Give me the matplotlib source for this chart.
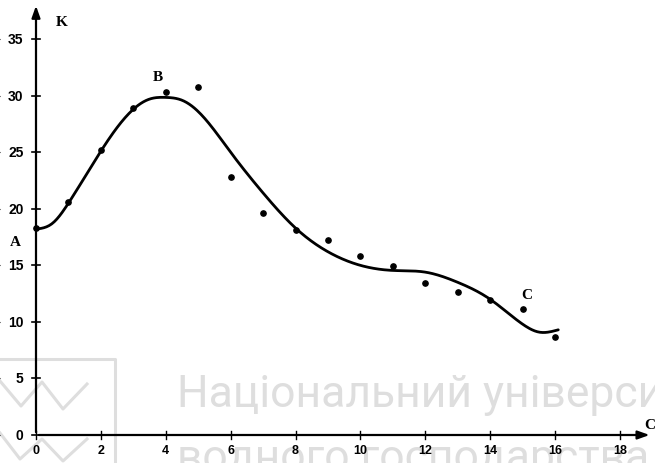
import numpy as np
import matplotlib
matplotlib.use('Agg')
import matplotlib.pyplot as plt
from matplotlib.lines import Line2D

# measured points (C, K)
pts_x = [0, 1, 2, 3, 4, 5, 6, 7, 8, 9, 10, 11, 12, 13, 14, 15, 16]
pts_y = [18.3, 20.6, 25.2, 28.9, 30.3, 30.8, 22.8, 19.6, 18.1, 17.2,
         15.8, 14.9, 13.4, 12.6, 11.9, 11.1, 8.7]

# fitted curve
curve_x = [0, 0.5, 1, 2, 3, 3.5, 4, 4.5, 5, 6, 7, 8, 9,
           10, 11, 12, 13, 14, 15, 15.5, 16.1]
curve_y = [18.2, 18.7, 20.5, 25.1, 28.8, 29.7, 29.85, 29.6, 28.6, 25.0,
           21.4, 18.3, 16.2, 15.0, 14.55, 14.4, 13.5, 12.0, 9.8, 9.1, 9.3]

xticks = [0, 2, 4, 6, 8, 10, 12, 14, 16, 18]
yticks = [0, 5, 10, 15, 20, 25, 30, 35]


def spline(xs, ys, n=400):
    # natural cubic spline y(x)
    x = np.asarray(xs, float)
    y = np.asarray(ys, float)
    m = len(x)
    h = np.diff(x)
    A = np.zeros((m, m))
    r = np.zeros(m)
    A[0, 0] = A[-1, -1] = 1
    for i in range(1, m - 1):
        A[i, i - 1] = h[i - 1]
        A[i, i] = 2 * (h[i - 1] + h[i])
        A[i, i + 1] = h[i]
        r[i] = 6 * ((y[i + 1] - y[i]) / h[i] - (y[i] - y[i - 1]) / h[i - 1])
    M = np.linalg.solve(A, r)
    xx = np.linspace(x[0], x[-1], n)
    k = np.clip(np.searchsorted(x, xx) - 1, 0, m - 2)
    a = x[k + 1] - xx
    b = xx - x[k]
    hk = h[k]
    yy = (M[k] * a ** 3 + M[k + 1] * b ** 3) / (6 * hk) \
        + (y[k] / hk - M[k] * hk / 6) * a + (y[k + 1] / hk - M[k + 1] * hk / 6) * b
    return xx, yy


fig = plt.figure(figsize=(6.55, 4.64), dpi=100)
ax = fig.add_axes([0, 0, 1, 1])
ax.patch.set_alpha(0)

# pixel mapping: x0 at 36px, 32.44 px/unit; y0 at 436px, 11.31 px/unit
ax.set_xlim(-36 / 32.44, (655 - 36) / 32.44)
ax.set_ylim(-(464 - 436) / 11.31, 436 / 11.31)

for s in ax.spines.values():
    s.set_visible(False)

# axes with arrows
ax.annotate('', xy=(0, 38.2), xytext=(0, 0),
            arrowprops=dict(arrowstyle='-|>,head_length=0.7,head_width=0.25', lw=1.6, color='black'))
ax.annotate('', xy=(19.0, 0), xytext=(0, 0),
            arrowprops=dict(arrowstyle='-|>,head_length=0.7,head_width=0.25', lw=1.6, color='black'))

# ticks crossing the axes
for t in yticks:
    ax.plot([-0.12, 0.12], [t, t], color='black', lw=1.2)
    ax.text(-0.38, t, str(t), ha='right', va='center', fontsize=10,
            fontweight='bold', family='Liberation Sans')
for t in xticks:
    ax.plot([t, t], [-0.35, 0.35], color='black', lw=1.0)
    ax.text(t, -1.35, str(t), ha='center', va='center', fontsize=9,
            fontweight='bold', family='Liberation Sans')

cx, cy = spline(curve_x, curve_y)
ax.plot(cx, cy, color='black', lw=2.0, solid_capstyle='round')
ax.plot(pts_x, pts_y, 'o', color='black', ms=3.8)

lab = dict(fontsize=11, fontweight='bold', family='Liberation Serif', ha='center', va='center')
ax.text(0.8, 36.6, 'K', **lab)
ax.text(-0.65, 17.1, 'A', **lab)
ax.text(3.76, 31.7, 'B', **lab)
ax.text(15.13, 12.4, 'C', **lab)
ax.text(18.93, 0.97, 'C', **lab)

# watermark
wm = '#dedede'
fig.text(177 / 655, 1 - 407 / 464, 'Національний університет', fontsize=32,
         family='Roboto', color=wm, ha='left', va='baseline', zorder=-1)
fig.text(177 / 655, 1 - 471 / 464, 'водного господарства', fontsize=32,
         family='Roboto', color=wm, ha='left', va='baseline', zorder=-1)
logo = [([0, 115, 115], [360, 360, 470]),
        ([0, 21, 42, 63, 87], [382, 407, 383, 410, 385]),
        ([0, 20, 42, 63, 87], [434, 460, 440, 462, 440])]
for lx, ly in logo:
    fig.add_artist(Line2D(np.array(lx) / 655, 1 - np.array(ly) / 464,
                          color=wm, lw=2.2, zorder=-1))

fig.savefig('out.png', dpi=100)
